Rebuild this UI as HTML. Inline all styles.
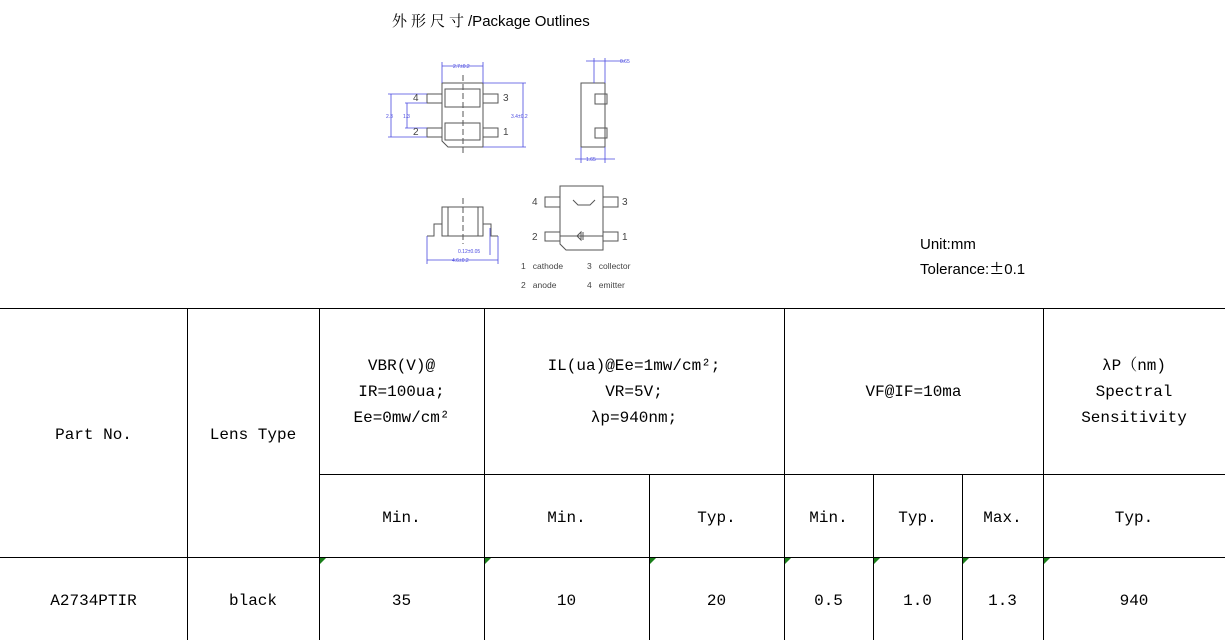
<!DOCTYPE html>
<html><head><meta charset="utf-8"><style>
body{margin:0;width:1225px;height:640px;background:#fff;position:relative;overflow:hidden;font-family:"Liberation Mono","Noto Serif CJK SC",monospace;}
.t{position:absolute;font-size:16px;color:#000;text-align:center;line-height:26px;}
.h{position:absolute;background:#000;height:1px;}
.v{position:absolute;background:#000;width:1px;}
.g{position:absolute;width:0;height:0;border-top:6px solid #1a7f1a;border-right:6px solid transparent;}
</style></head><body>
<div style="position:absolute;left:392px;top:10px;font-family:'Liberation Sans','Noto Sans CJK SC',sans-serif;font-size:15px;"><span style="font-family:'Noto Serif CJK SC',serif;letter-spacing:4px">外形尺寸</span>/Package Outlines</div>
<div style="position:absolute;left:920px;top:233px;font-family:'Liberation Sans',sans-serif;font-size:15px;line-height:24px;">Unit:mm<br>Tolerance:<span style="font-family:'Noto Sans CJK SC',sans-serif">±</span>0.1</div>
<svg width="1225" height="300" style="position:absolute;left:0;top:0" font-family="Liberation Sans,sans-serif">
<g fill="none" stroke="#555" stroke-width="1">
<path d="M442 83H483V147H448L442 141Z"/>
<rect x="445" y="89" width="35" height="18"/><rect x="445" y="123" width="35" height="17"/>
<rect x="427" y="94" width="15" height="9"/><rect x="427" y="128" width="15" height="9"/>
<rect x="483" y="94" width="15" height="9"/><rect x="483" y="128" width="15" height="9"/>
<line x1="463" y1="75" x2="463" y2="155" stroke-dasharray="6,3"/>
<rect x="581" y="83" width="24" height="64"/>
<rect x="595" y="94" width="12" height="10"/><rect x="595" y="128" width="12" height="10"/>
<rect x="442" y="207" width="41" height="29"/>
<line x1="448" y1="207" x2="448" y2="236"/><line x1="478" y1="207" x2="478" y2="236"/>
<path d="M442 224H434V236H427M483 224H491V236H498"/>
<line x1="463" y1="198" x2="463" y2="244" stroke-dasharray="6,3"/>
<path d="M560 186H603V250H566L560 244Z"/>
<line x1="560" y1="236" x2="603" y2="236"/>
<rect x="545" y="197" width="15" height="10"/><rect x="545" y="232" width="15" height="9"/>
<rect x="603" y="197" width="15" height="10"/><rect x="603" y="232" width="15" height="9"/>
<path d="M573 200L578 205H590L595 200"/><path d="M577 236L581 232V240Z M583 232V240"/>
</g>
<g stroke="#4a4ae0" stroke-width="0.8" fill="none">
<path d="M442 83V62M483 83V62M442 66H483"/>
<path d="M483 83H526M483 147H526M523 83V147"/>
<path d="M427 94H388M427 137H388M391 94V137M427 103H405M427 128H405M407 103V128"/>
<path d="M594 58V83M605 58V83M586 61H625"/>
<path d="M581 147V163M605 147V163M575 159H615"/>
<path d="M427 236V264M498 236V264M427 260H498M490 228V255"/>
</g>
<g fill="#4a4ae0" font-size="5">
<text x="453" y="68">2.7±0.2</text><text x="511" y="118">3.4±0.2</text>
<text x="386" y="118">2.3</text><text x="403" y="118">1.3</text>
<text x="620" y="63">0.65</text><text x="586" y="161">1.65</text>
<text x="458" y="253">0.12±0.05</text><text x="452" y="262">4.6±0.2</text>
</g>
<g fill="#444" font-size="10">
<text x="413" y="101">4</text><text x="413" y="135">2</text><text x="503" y="101">3</text><text x="503" y="135">1</text>
<text x="532" y="205">4</text><text x="532" y="240">2</text><text x="622" y="205">3</text><text x="622" y="240">1</text>
<text x="521" y="269" font-size="8.5" xml:space="preserve">1   cathode</text><text x="587" y="269" font-size="8.5" xml:space="preserve">3   collector</text>
<text x="521" y="288" font-size="8.5" xml:space="preserve">2   anode</text><text x="587" y="288" font-size="8.5" xml:space="preserve">4   emitter</text>
</g>
</svg>
<div class="h" style="left:0;top:308px;width:1225px"></div>
<div class="h" style="left:319px;top:474px;width:906px"></div>
<div class="h" style="left:0;top:557px;width:1225px"></div>
<div class="v" style="left:187px;top:308px;height:332px"></div>
<div class="v" style="left:319px;top:308px;height:332px"></div>
<div class="v" style="left:484px;top:308px;height:332px"></div>
<div class="v" style="left:649px;top:474px;height:166px"></div>
<div class="v" style="left:784px;top:308px;height:332px"></div>
<div class="v" style="left:873px;top:474px;height:166px"></div>
<div class="v" style="left:962px;top:474px;height:166px"></div>
<div class="v" style="left:1043px;top:308px;height:332px"></div>
<div class="g" style="left:320px;top:558px"></div><div class="g" style="left:485px;top:558px"></div><div class="g" style="left:650px;top:558px"></div><div class="g" style="left:785px;top:558px"></div><div class="g" style="left:874px;top:558px"></div><div class="g" style="left:963px;top:558px"></div><div class="g" style="left:1044px;top:558px"></div>
<div class="t" style="left:0;width:187px;top:422px">Part No.</div>
<div class="t" style="left:187px;width:132px;top:422px">Lens Type</div>
<div class="t" style="left:319px;width:165px;top:353px">VBR(V)@<br>IR=100ua;<br>Ee=0mw/cm²</div>
<div class="t" style="left:484px;width:300px;top:353px">IL(ua)@Ee=1mw/cm²;<br>VR=5V;<br>λp=940nm;</div>
<div class="t" style="left:784px;width:259px;top:379px">VF@IF=10ma</div>
<div class="t" style="left:1043px;width:182px;top:353px">λP（nm)<br>Spectral<br>Sensitivity</div>
<div class="t" style="left:319px;width:165px;top:505px">Min.</div>
<div class="t" style="left:484px;width:165px;top:505px">Min.</div>
<div class="t" style="left:649px;width:135px;top:505px">Typ.</div>
<div class="t" style="left:784px;width:89px;top:505px">Min.</div>
<div class="t" style="left:873px;width:89px;top:505px">Typ.</div>
<div class="t" style="left:962px;width:81px;top:505px">Max.</div>
<div class="t" style="left:1043px;width:182px;top:505px">Typ.</div>
<div class="t" style="left:0;width:187px;top:588px">A2734PTIR</div>
<div class="t" style="left:187px;width:132px;top:588px">black</div>
<div class="t" style="left:319px;width:165px;top:588px">35</div>
<div class="t" style="left:484px;width:165px;top:588px">10</div>
<div class="t" style="left:649px;width:135px;top:588px">20</div>
<div class="t" style="left:784px;width:89px;top:588px">0.5</div>
<div class="t" style="left:873px;width:89px;top:588px">1.0</div>
<div class="t" style="left:962px;width:81px;top:588px">1.3</div>
<div class="t" style="left:1043px;width:182px;top:588px">940</div>
</body></html>
